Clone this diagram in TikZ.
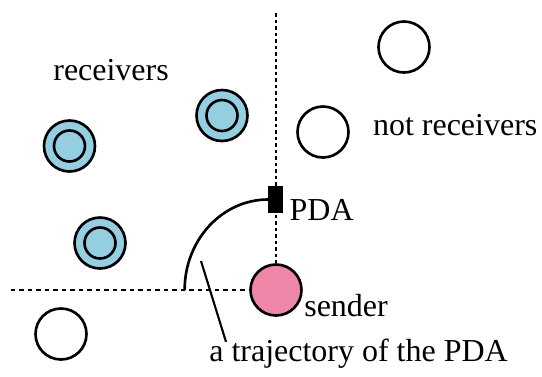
\documentclass[tikz,border=0pt]{standalone}
\usepackage{fontspec}
\setmainfont{Liberation Serif}
\usepackage{xcolor}
\usetikzlibrary{arrows.meta}

\definecolor{recvblue}{RGB}{150,206,225}
\definecolor{sendpink}{RGB}{238,135,168}

\begin{document}
\begin{tikzpicture}[
    node font=\fontsize{18.2}{22}\selectfont,
    lbl/.style={inner sep=0pt,anchor=base west},
    other/.style={circle,draw,line width=1.5pt,minimum size=1.02cm,inner sep=0pt},
    recv/.style={other,fill=recvblue,
        path picture={\draw[line width=1.5pt] (path picture bounding box.center) circle (0.31cm);}},
    axis/.style={line width=1.3pt,dash pattern=on 0.09cm off 0.08cm}]
                \useasboundingbox (0,0) rectangle (10.84,7.52);
                % nodes
                \node[recv] (r1) at (1.39,4.60) {};
                \node[recv] (r2) at (4.44,5.21) {};
                \node[recv] (r3) at (2.00,2.66) {};
                \node[other] (n1) at (8.08,6.58) {};
                \node[other] (n2) at (6.46,4.88) {};
                \node[other] (n3) at (1.22,0.84) {};
                \node[other,fill=sendpink] (snd) at (5.52,1.72) {};
                \node[fill=black,inner sep=0pt,minimum width=0.3cm,minimum height=0.54cm] (pda) at (5.52,3.53) {};
                \coordinate (top) at (5.52,7.26);
                \coordinate (left) at (0.22,1.72);
                \coordinate (traj) at (4.02,2.30);
                % labels
                \node[lbl] at (1.06,5.906) {receivers};
                \node[lbl] at (7.454,4.82) {not receivers};
                \node[lbl] at (5.786,3.12) {PDA};
                \node[lbl] at (6.08,1.20) {sender};
                \node[lbl] (trajlbl) at (4.18,0.286) {a trajectory of the PDA};
                % axes and path
                \draw[axis,dash pattern=on 0.07cm off 0.06cm] (top) -- (snd.north);
                \draw[axis] (left) -- (snd.west);
                \draw[line width=1.5pt] (pda.west) arc[start angle=90,end angle=180,x radius=1.67,y radius=1.81];
                \draw[line width=1.2pt] (traj) -- ([xshift=0.34cm,yshift=-0.06cm]trajlbl.north west);
            \end{tikzpicture}
\end{document}
